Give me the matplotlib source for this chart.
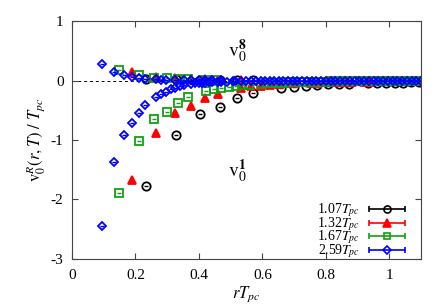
import numpy as np
import matplotlib
matplotlib.use("Agg")
import matplotlib.pyplot as plt
from matplotlib.container import ErrorbarContainer
from matplotlib.legend_handler import HandlerErrorbar

plt.rcParams['font.family'] = ['Liberation Serif', 'DejaVu Serif']
plt.rcParams['mathtext.fontset'] = 'stix'
plt.rcParams['axes.unicode_minus'] = False

labels = ['1.07$T_{pc}$', '1.32$T_{pc}$', '1.67$T_{pc}$', '2.59$T_{pc}$']

# singlet (lower branch) x / y per temperature
x1_107 = [0.233, 0.329, 0.404, 0.466, 0.521, 0.571, 0.659, 0.699, 0.737, 0.773, 0.807,
          0.840, 0.872, 0.932, 0.961, 0.989, 1.016, 1.042, 1.068, 1.093]
y1_107 = [-1.78, -0.92, -0.56, -0.44, -0.30, -0.21, -0.13, -0.11, -0.095, -0.08, -0.058,
          -0.056, -0.052, -0.05, -0.045, -0.042, -0.04, -0.035, -0.03, -0.03]

x1_132 = [0.188, 0.266, 0.326, 0.376, 0.420, 0.461, 0.532, 0.564, 0.595, 0.624, 0.651,
          0.678, 0.703, 0.752, 0.775, 0.798, 0.819, 0.841, 0.862, 0.882, 0.921, 0.940,
          0.959, 0.977, 1.012, 1.030, 1.063, 1.080, 1.096]
y1_132 = [-1.68, -0.88, -0.54, -0.43, -0.30, -0.22, -0.12, -0.10, -0.084, -0.07, -0.06,
          -0.05, -0.045, -0.04, -0.035, -0.03, -0.03, -0.025, -0.025, -0.02, -0.02, -0.02,
          -0.015, -0.015, -0.015, -0.01, -0.01, -0.01, -0.01]

x1_167 = [0.149, 0.211, 0.258, 0.298, 0.333, 0.365, 0.421, 0.447, 0.471, 0.494, 0.516,
          0.537, 0.558, 0.596, 0.614, 0.632, 0.649, 0.666, 0.683, 0.699, 0.730, 0.745,
          0.760, 0.774, 0.802, 0.816, 0.843, 0.856, 0.869, 0.881, 0.894, 0.906, 0.918,
          0.942, 0.954, 0.966, 0.977, 0.988, 1.000, 1.011, 1.032, 1.043, 1.054, 1.064,
          1.074, 1.085, 1.095]
y1_167 = [-1.89, -1.02, -0.655, -0.53, -0.38, -0.285, -0.18, -0.15, -0.12, -0.105, -0.09,
          -0.08, -0.07, -0.06, -0.05, -0.045, -0.04, -0.035, -0.03, -0.03, -0.025, -0.025,
          -0.02, -0.02, -0.02, -0.015, -0.015, -0.015, -0.01, -0.01, -0.01, -0.01, -0.01,
          -0.01, -0.01, -0.005, -0.005, -0.005, -0.005, -0.005, -0.005, -0.005, -0.005,
          -0.005, -0.005, -0.005, -0.005]

x1_259 = [0.094, 0.133, 0.163, 0.188, 0.210, 0.230, 0.266, 0.282, 0.297, 0.312, 0.326,
          0.339, 0.352, 0.376, 0.388, 0.399, 0.410, 0.420, 0.431, 0.441, 0.461, 0.470,
          0.488, 0.506, 0.515, 0.532, 0.548, 0.564, 0.579, 0.594, 0.609, 0.624, 0.638,
          0.651, 0.665, 0.680, 0.695, 0.710, 0.725, 0.740, 0.755, 0.770, 0.785, 0.800,
          0.815, 0.830, 0.845, 0.860, 0.875, 0.890, 0.905, 0.920, 0.935, 0.950, 0.965,
          0.980, 0.995, 1.010, 1.025, 1.040, 1.055, 1.070, 1.085, 1.100]
y1_259 = [-2.45, -1.37, -0.91, -0.72, -0.54, -0.41, -0.27, -0.23, -0.19, -0.15, -0.12,
          -0.10, -0.08, -0.06, -0.05, -0.045, -0.04, -0.035, -0.03, -0.03, -0.025, -0.02,
          -0.02, -0.015, -0.015, -0.01, -0.01, -0.01, -0.01, -0.005, -0.005, -0.005,
          -0.005, -0.005, -0.005, 0.0, 0.0, 0.0, 0.0, 0.0, 0.0, 0.0, 0.0, 0.0, 0.0, 0.0,
          0.0, 0.0, 0.0, 0.0, 0.0, 0.0, 0.0, 0.0, 0.0, 0.0, 0.0, 0.0, 0.0, 0.0, 0.0,
          0.0, 0.0, 0.0]

# octet (upper branch)
x8_107 = [0.233, 0.329, 0.404, 0.466, 0.521, 0.571]
y8_107 = [0.03, 0.02, 0.015, 0.01, 0.008, 0.006]
x8_132 = [0.188, 0.266, 0.326, 0.376, 0.420, 0.461, 0.532]
y8_132 = [0.14, 0.06, 0.035, 0.025, 0.02, 0.015, 0.01]
x8_167 = [0.149, 0.211, 0.258, 0.298, 0.333, 0.365, 0.421, 0.447]
y8_167 = [0.185, 0.10, 0.05, 0.04, 0.03, 0.02, 0.015, 0.01]
x8_259 = [0.094, 0.133, 0.163, 0.188, 0.210, 0.230, 0.266, 0.282, 0.297, 0.326, 0.352,
          0.376, 0.399, 0.420, 0.441, 0.470]
y8_259 = [0.27, 0.15, 0.09, 0.06, 0.04, 0.03, 0.02, 0.015, 0.012, 0.01, 0.008,
          0.006, 0.005, 0.004, 0.003, 0.002]

series = [
    (x1_107, y1_107, x8_107, y8_107, 'k', 'o', 'none'),
    (x1_132, y1_132, x8_132, y8_132, 'red', '^', 'red'),
    (x1_167, y1_167, x8_167, y8_167, '#11a011', 's', 'none'),
    (x1_259, y1_259, x8_259, y8_259, 'blue', 'D', 'none'),
]
sizes = {'o': 6, '^': 6, 's': 5.5, 'D': 4.5}

fig = plt.figure(figsize=(4.36, 3.05), dpi=100)
ax = fig.add_axes([0.165, 0.151, 0.801, 0.78])

ax.axhline(0, color='k', ls=(0, (3, 3)), lw=0.7, zorder=1)

handles = []
for (x1, y1, x8, y8, c, m, fc), lab in zip(series, labels):
    for xs, ys in ((x1, y1), (x8, y8)):
        ax.plot(xs, ys, ls='none', marker=m, ms=sizes[m], mec=c, mfc=fc, mew=1.3)
        ax.plot(xs, ys, ls='none', marker='_', ms=2.5, mec=c, mew=1.0)
    h = ax.errorbar([np.nan], [np.nan], xerr=[1.0], fmt=m, ms=sizes[m] * 0.85, color=c,
                    mec=c, mfc=fc, mew=1.2, lw=1.2, capsize=2.5, label=lab)
    handles.append(h)

ax.text(0.49, 0.4, r'$\mathrm{v}_0^{\mathbf{8}}$', fontsize=14)
ax.text(0.49, -1.62, r'$\mathrm{v}_0^{\mathbf{1}}$', fontsize=14)

ax.set_xlim(0, 1.1)
ax.set_ylim(-3, 1)
ax.set_xticks([0, 0.2, 0.4, 0.6, 0.8, 1.0])
ax.set_xticklabels(['0', '0.2', '0.4', '0.6', '0.8', '1'])
ax.set_yticks([-3, -2, -1, 0, 1])
ax.tick_params(direction='in', top=True, right=True, length=4, labelsize=11,
               color='#444444')
ax.tick_params(axis='x', pad=7)
ax.tick_params(axis='y', pad=6)
for sp in ax.spines.values():
    sp.set_color('#444444')

ax.set_xlabel('$rT_{pc}$', fontsize=12, labelpad=2)
ax.set_ylabel(r'$\mathrm{v}_0^R(r,T)\ /\ T_{pc}$', fontsize=12, labelpad=2)

ax.legend(handles=handles, loc='lower right', bbox_to_anchor=(0.955, -0.004),
          frameon=False, markerfirst=False,
          fontsize=10, handlelength=2.7, handleheight=0.5, labelspacing=-0.3,
          handletextpad=0.6, borderaxespad=0.0, borderpad=0.0,
          handler_map={ErrorbarContainer: HandlerErrorbar(xerr_size=1.3, numpoints=1)})

fig.savefig('out.png', dpi=100)
